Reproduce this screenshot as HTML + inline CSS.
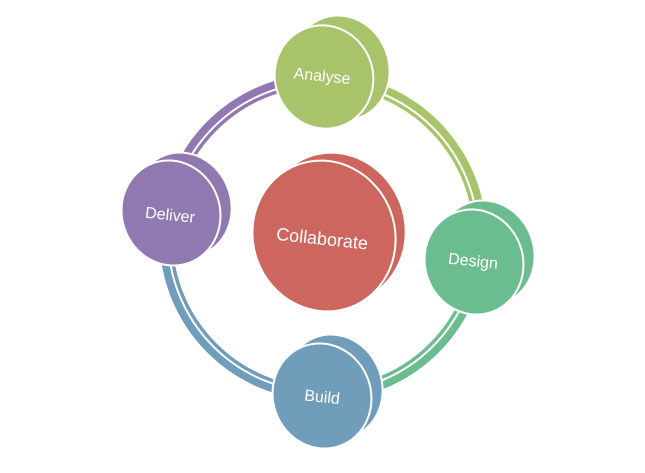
<!DOCTYPE html>
<html><head><meta charset="utf-8"><style>
html,body{margin:0;padding:0;background:#fff;}
svg{display:block;}
text{font-family:"Liberation Sans",sans-serif;fill:#fff;text-anchor:middle;dominant-baseline:middle;}
</style></head><body>
<svg width="645" height="473" viewBox="0 0 645 473">
<g fill="none">
  <!-- arcs center (323,237) r 157 -->
  <path d="M 331.2 80.2 A 157 157 0 0 1 478.1 261.6" stroke="#a9c36a" stroke-width="13"/>
  <path d="M 478.1 261.6 A 157 157 0 0 1 323 394" stroke="#6bbd8f" stroke-width="13"/>
  <path d="M 323 394 A 157 157 0 0 1 167.9 212.4" stroke="#6f9dba" stroke-width="13"/>
  <path d="M 167.9 212.4 A 157 157 0 0 1 331.2 80.2" stroke="#9079b0" stroke-width="13"/>
  <circle cx="323" cy="237" r="155" stroke="#fff" stroke-width="2"/>
</g>
<g stroke="#fff" stroke-width="2">
  <!-- Analyse -->
  <ellipse cx="341" cy="68" rx="48" ry="53" transform="rotate(-20 341 68)" fill="#a9c36a"/>
  <ellipse cx="324" cy="77" rx="49" ry="52" transform="rotate(-20 324 77)" fill="#a9c36a"/>
  <!-- Design -->
  <ellipse cx="486" cy="253" rx="48" ry="53" transform="rotate(-20 486 253)" fill="#6bbd8f"/>
  <ellipse cx="474" cy="262" rx="49" ry="53" transform="rotate(-20 474 262)" fill="#6bbd8f"/>
  <!-- Build -->
  <ellipse cx="334" cy="387" rx="48" ry="53" transform="rotate(-20 334 387)" fill="#6f9dba"/>
  <ellipse cx="322" cy="396" rx="49" ry="53" transform="rotate(-20 322 396)" fill="#6f9dba"/>
  <!-- Deliver -->
  <ellipse cx="183" cy="205" rx="48" ry="53" transform="rotate(-20 183 205)" fill="#9079b0"/>
  <ellipse cx="171" cy="213" rx="49" ry="53" transform="rotate(-20 171 213)" fill="#9079b0"/>
  <!-- Collaborate -->
  <ellipse cx="335" cy="228" rx="70" ry="76" transform="rotate(-20 335 228)" fill="#cc665e"/>
  <ellipse cx="324" cy="236" rx="71" ry="76" transform="rotate(-20 324 236)" fill="#cc665e"/>
</g>
<text x="322" y="77" font-size="16" transform="rotate(6 322 77)">Analyse</text>
<text x="473" y="262" font-size="16" transform="rotate(6 473 262)">Design</text>
<text x="322" y="398" font-size="16" transform="rotate(6 322 398)">Build</text>
<text x="170" y="216" font-size="16" transform="rotate(6 170 216)">Deliver</text>
<text x="322" y="240" font-size="18" transform="rotate(6 322 240)">Collaborate</text>
</svg>
</body></html>
